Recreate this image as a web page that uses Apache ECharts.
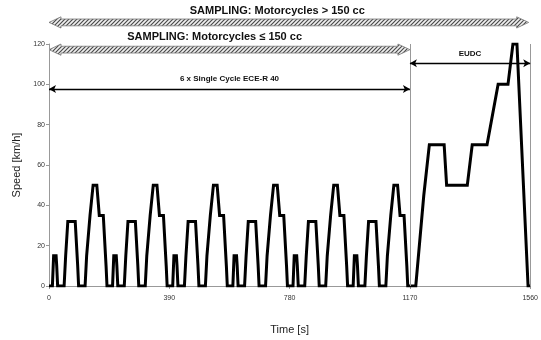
<!DOCTYPE html>
<html><head><meta charset="utf-8">
<script src="https://cdn.jsdelivr.net/npm/echarts@6/dist/echarts.min.js"></script>
<style>html,body{margin:0;padding:0;background:#fff}#c{width:541px;height:340px}</style>
</head><body><div id="c"></div>
<script>
// ---- data ----
const cycleStarts = [0, 195, 390, 585, 780, 975];           // 6 x ECE-R 40 cycles [s]
const eceTime  = [0, 11, 15, 23, 25, 28, 49, 54, 56, 61, 85, 93, 96, 117, 122, 124, 133, 135, 143, 155, 163, 176, 178, 185, 188, 195];
const eceSpeed = [0, 0, 15, 15, 10, 0, 0, 15, 15, 32, 32, 10, 0, 0, 15, 15, 35, 35, 50, 50, 35, 35, 35, 10, 0, 0];
const eudcTime  = [1170, 1189, 1215, 1233, 1281, 1289, 1356, 1372, 1420, 1456, 1488, 1504, 1517, 1553, 1560];
const eudcSpeed = [0, 0, 45, 70, 70, 50, 50, 70, 70, 100, 100, 120, 120, 0, 0];
const xTicks = [0, 390, 780, 1170, 1560];
const yTicks = [0, 20, 40, 60, 80, 100, 120];
const eceEnd = 1170, cycleEnd = 1560;

// build the speed trace
const trace = [];
cycleStarts.forEach((s, ci) => {
  eceTime.forEach((t, i) => {
    if (ci > 0 && i === 0) return;
    trace.push([s + t, eceSpeed[i]]);
  });
});
eudcTime.forEach((t, i) => { if (i > 0) trace.push([t, eudcSpeed[i]]); });

const FONT = 'Liberation Sans, Arial, sans-serif';
const chart = echarts.init(document.getElementById('c'), null, {renderer: 'canvas'});

const arrowSym = {symbol: 'arrow', symbolSize: [6, 7]};
chart.setOption({
  animation: false,
  grid: {left: 49, right: 8, top: 44, bottom: 53},
  xAxis: {
    type: 'value', min: 0, max: 1560, interval: 390,
    name: 'Time [s]', nameLocation: 'middle', nameGap: 38,
    nameTextStyle: {fontFamily: FONT, fontSize: 11, color: '#222'},
    axisLine: {lineStyle: {color: '#999'}},
    axisTick: {show: true, length: 3, lineStyle: {color: '#999'}},
    axisLabel: {fontFamily: FONT, fontSize: 7, color: '#333', margin: 9,
      formatter: v => xTicks.includes(v) ? String(v) : ''},
    splitLine: {show: false}
  },
  yAxis: {
    type: 'value', min: 0, max: 120, interval: 20,
    name: 'Speed [km/h]', nameLocation: 'middle', nameGap: 27,
    nameTextStyle: {fontFamily: FONT, fontSize: 11, color: '#222'},
    axisLine: {show: true, lineStyle: {color: '#999'}},
    axisTick: {show: true, length: 3, lineStyle: {color: '#999'}},
    axisLabel: {fontFamily: FONT, fontSize: 7, color: '#333', margin: 4,
      formatter: v => yTicks.includes(v) ? String(v) : ''},
    splitLine: {show: false}
  },
  series: [{
    type: 'line', data: trace, symbol: 'none', silent: true,
    lineStyle: {color: '#000', width: 3, join: 'miter'},
    markLine: {
      silent: true, animation: false, symbol: 'none',
      data: [
        [{coord: [eceEnd, 0], lineStyle: {color: '#999', width: 1, type: 'solid'}}, {coord: [eceEnd, 120]}],
        [{coord: [cycleEnd, 0], lineStyle: {color: '#999', width: 1, type: 'solid'}}, {coord: [cycleEnd, 120]}],
        [{coord: [0, 97.7], ...arrowSym,
          lineStyle: {color: '#000', width: 1.3, type: 'solid'},
          label: {show: true, position: 'middle', formatter: '6 x Single Cycle ECE-R 40',
            fontFamily: FONT, fontSize: 8, fontWeight: 'bold', color: '#111',
            backgroundColor: '#fff', padding: [1, 11]}},
         {coord: [eceEnd, 97.7], ...arrowSym}],
        [{coord: [eceEnd, 110.4], ...arrowSym,
          lineStyle: {color: '#000', width: 1.3, type: 'solid'},
          label: {show: true, position: 'insideMiddleTop', distance: 6, formatter: 'EUDC',
            fontFamily: FONT, fontSize: 8, fontWeight: 'bold', color: '#111'}},
         {coord: [cycleEnd, 110.4], ...arrowSym}]
      ]
    }
  }]
});

// hatch pattern
const pc = document.createElement('canvas');
pc.width = 4; pc.height = 4;
const g = pc.getContext('2d');
g.fillStyle = '#f0f0f0'; g.fillRect(0, 0, 4, 4);
g.strokeStyle = '#4a4a4a'; g.lineWidth = 1.2;
g.beginPath();
g.moveTo(0, 4); g.lineTo(4, 0);
g.moveTo(-1, 1); g.lineTo(1, -1);
g.moveTo(3, 5); g.lineTo(5, 3);
g.stroke();
const hatch = {image: pc, repeat: 'repeat'};

function px(t, v) { return chart.convertToPixel({gridIndex: 0}, [t, v]); }
function hatchedArrow(t0, t1, v) {
  const a = px(t0, v), b = px(t1, v);
  const x0 = a[0], x1 = b[0], y = a[1];
  const hl = 12, hh = 5.6, sh = 3.4;
  return {
    type: 'polygon', silent: true,
    shape: {points: [[x0, y], [x0 + hl, y - hh], [x0 + hl, y - sh], [x1 - hl, y - sh], [x1 - hl, y - hh],
      [x1, y], [x1 - hl, y + hh], [x1 - hl, y + sh], [x0 + hl, y + sh], [x0 + hl, y + hh]]},
    style: {fill: hatch, stroke: '#777', lineWidth: 0.8}
  };
}
function label(t, v, text, size) {
  const p = px(t, v);
  return {type: 'text', silent: true, x: p[0], y: p[1],
    style: {text: text, fontFamily: FONT, fontSize: size, fontWeight: 'bold', fill: '#111',
      align: 'center', verticalAlign: 'middle'}};
}
chart.setOption({
  graphic: [
    hatchedArrow(0, cycleEnd - 5, 130.7),
    hatchedArrow(0, eceEnd, 117.2),
    label(740, 136.3, 'SAMPLING: Motorcycles > 150 cc', 11),
    label(537, 123.5, 'SAMPLING: Motorcycles \u2264 150 cc', 11)
  ]
});
</script></body></html>
